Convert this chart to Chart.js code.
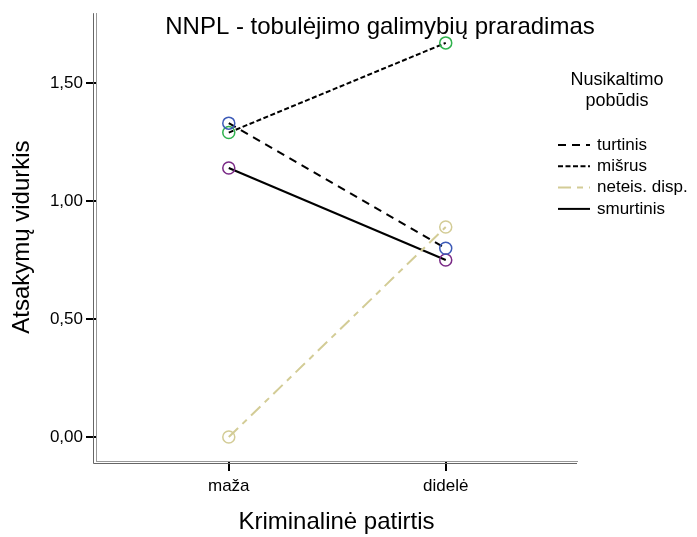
<!DOCTYPE html>
<html lang="lt">
<head>
<meta charset="UTF-8">
<title>NNPL - tobulėjimo galimybių praradimas</title>
<script src="https://cdn.jsdelivr.net/npm/chart.js@4.4.1/dist/chart.umd.min.js"></script>
<style>
  body { margin: 0; background: #fff; }
  #wrap { position: relative; width: 697px; height: 537px; }
</style>
</head>
<body>
<div id="wrap">
  <canvas id="myChart" width="697" height="537"></canvas>
</div>
<script>
// data
const categories = ["maža", "didelė"];
const seriesNames = ["turtinis", "mišrus", "neteis. disp.", "smurtinis"];
const turtinis = [1.33, 0.80];
const misrus = [1.29, 1.67];
const neteisDisp = [0.00, 0.89];
const smurtinis = [1.14, 0.75];
const yTicks = [0, 0.5, 1, 1.5];

const FONT = "'Liberation Sans', Arial, sans-serif";

function toPoints(vals) {
  return vals.map((v, i) => ({ x: i, y: v }));
}

function makeSet(label, vals, lineColor, markColor, dash) {
  return {
    label: label,
    data: toPoints(vals),
    borderColor: lineColor,
    borderWidth: 2,
    borderDash: dash,
    pointRadius: 6,
    pointHoverRadius: 6,
    pointBorderWidth: 1.5,
    pointBorderColor: markColor,
    pointBackgroundColor: "rgba(0,0,0,0)",
    fill: false,
    tension: 0,
    clip: false
  };
}

const datasets = [
  makeSet(seriesNames[0], turtinis, "#000", "#3d5bb8", [8, 6]),
  makeSet(seriesNames[1], misrus, "#000", "#2fb24c", [5, 2.5]),
  makeSet(seriesNames[2], neteisDisp, "#d3cc96", "#d3cc96", [13, 6, 6, 6]),
  makeSet(seriesNames[3], smurtinis, "#000", "#7a2a86", [])
];

// title, legend and the double axis line
const extras = {
  id: "extras",
  beforeDatasetsDraw(chart) {
    const { ctx, chartArea: a } = chart;
    ctx.save();
    ctx.strokeStyle = "#666";
    ctx.lineWidth = 1;
    ctx.beginPath();
    ctx.moveTo(a.left - 2.5, a.top);
    ctx.lineTo(a.left - 2.5, a.bottom + 2.5);
    ctx.lineTo(a.right, a.bottom + 2.5);
    ctx.stroke();
    ctx.restore();
  },
  afterDraw(chart) {
    const ctx = chart.ctx;
    ctx.save();
    ctx.fillStyle = "#000";
    ctx.textBaseline = "middle";
    ctx.textAlign = "center";
    ctx.font = "24px " + FONT;
    ctx.fillText("NNPL - tobulėjimo galimybių praradimas", 380, 27);

    ctx.font = "18px " + FONT;
    ctx.fillText("Nusikaltimo", 617, 80);
    ctx.fillText("pobūdis", 617, 101);

    ctx.textAlign = "left";
    ctx.font = "17px " + FONT;
    chart.data.datasets.forEach((ds, i) => {
      const y = 145 + i * 21.3;
      ctx.strokeStyle = ds.borderColor;
      ctx.lineWidth = 2;
      ctx.setLineDash(ds.borderDash);
      ctx.beginPath();
      ctx.moveTo(558, y);
      ctx.lineTo(590, y);
      ctx.stroke();
      ctx.setLineDash([]);
      ctx.fillText(ds.label, 597, y);
    });
    ctx.restore();
  }
};

new Chart("myChart", {
  type: "line",
  data: { datasets: datasets },
  plugins: [extras],
  options: {
    responsive: false,
    animation: false,
    layout: { padding: { top: 12, right: 120, left: 0, bottom: 0 } },
    plugins: {
      legend: { display: false },
      tooltip: { enabled: false }
    },
    scales: {
      x: {
        type: "linear",
        min: -0.612,
        max: 1.605,
        afterFit: s => { s.height = 76; },
        afterBuildTicks: s => { s.ticks = categories.map((c, i) => ({ value: i })); },
        ticks: {
          callback: v => categories[v],
          color: "#000",
          font: { size: 17, family: FONT },
          padding: 5,
          maxRotation: 0
        },
        grid: { drawOnChartArea: false, drawTicks: true, tickLength: 10, color: "#000", lineWidth: 2 },
        border: { display: true, color: "#999", width: 1 },
        title: {
          display: true,
          text: "Kriminalinė patirtis",
          color: "#000",
          font: { size: 24, family: FONT },
          padding: { top: 0, bottom: 0 }
        }
      },
      y: {
        type: "linear",
        min: -0.1014,
        max: 1.7958,
        afterFit: s => { s.width = 96; },
        afterBuildTicks: s => { s.ticks = yTicks.map(v => ({ value: v })); },
        ticks: {
          callback: v => v.toFixed(2).replace(".", ","),
          color: "#000",
          font: { size: 17, family: FONT },
          padding: 3
        },
        grid: { drawOnChartArea: false, drawTicks: true, tickLength: 10, color: "#000", lineWidth: 2 },
        border: { display: true, color: "#999", width: 1 },
        title: {
          display: true,
          text: "Atsakymų vidurkis",
          color: "#000",
          font: { size: 24, family: FONT },
          padding: { top: 7.5, bottom: 0 }
        }
      }
    }
  }
});
</script>
</body>
</html>
